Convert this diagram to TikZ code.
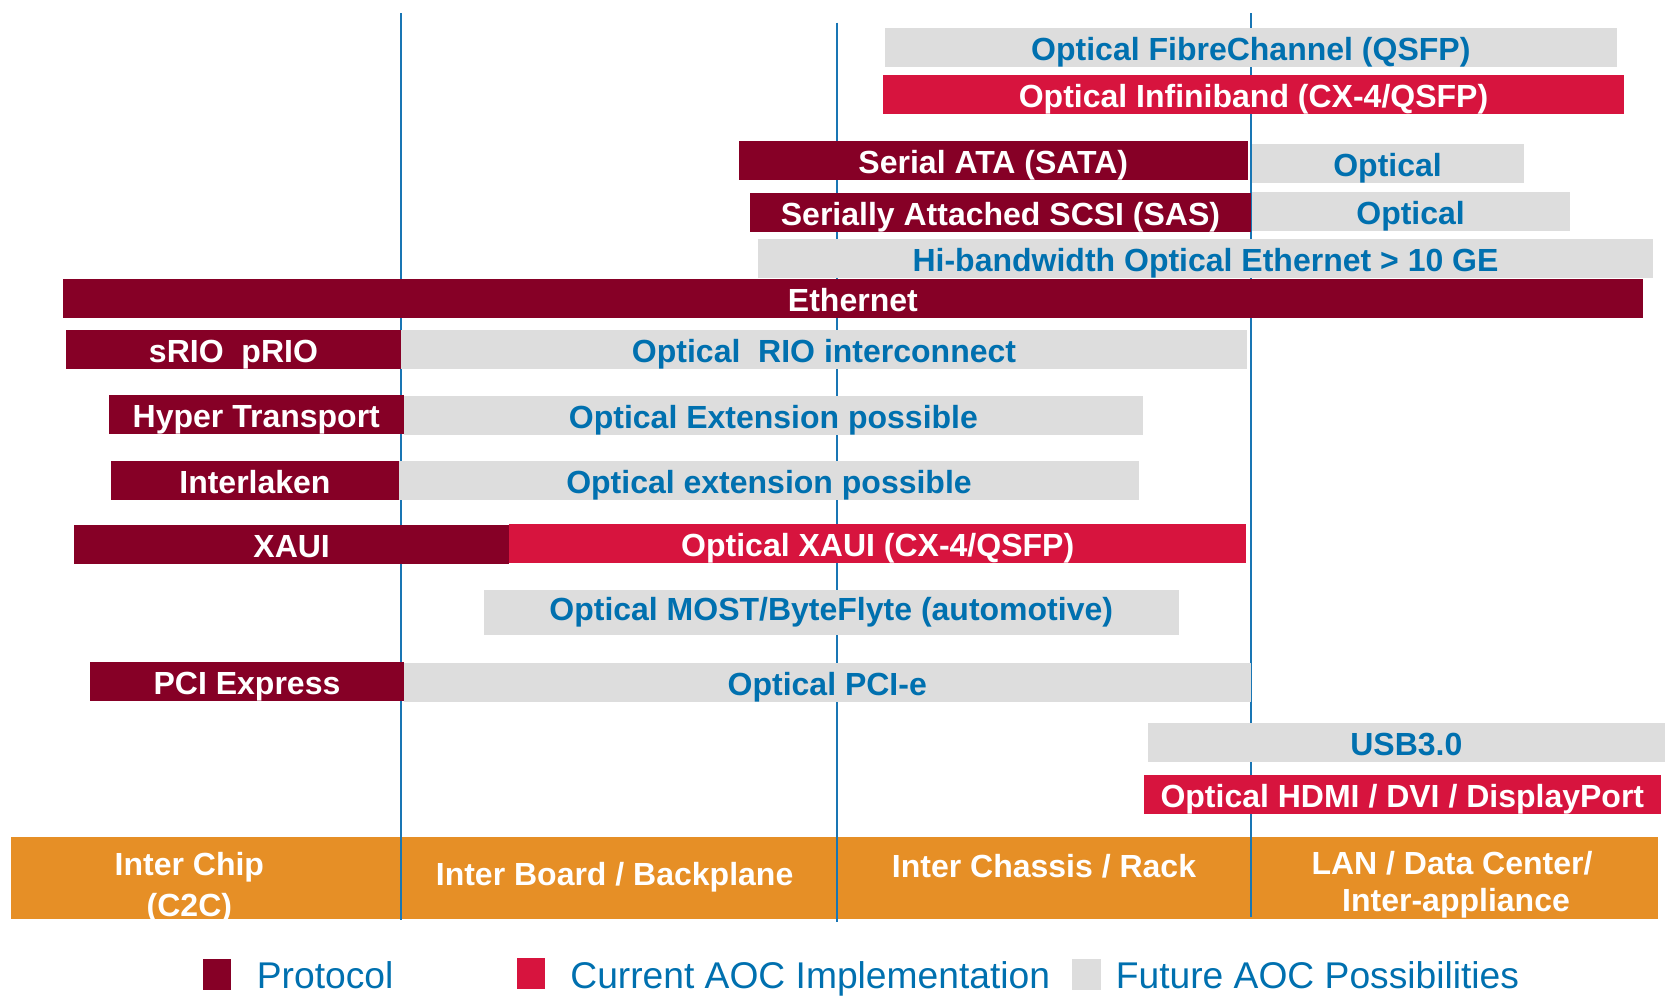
\documentclass[tikz,border=0pt]{standalone}
\usepackage{fontspec}
\setmainfont{Liberation Sans}
\definecolor{proto}{RGB}{134,0,38}
\definecolor{curr}{RGB}{215,20,62}
\definecolor{futg}{RGB}{221,221,221}
\definecolor{orng}{RGB}{230,143,38}
\definecolor{bluet}{RGB}{0,112,175}
\definecolor{vline}{RGB}{25,118,180}
\tikzset{
 barbase/.style={inner sep=0pt, outer sep=0pt, font=\fontsize{16pt}{19pt}\selectfont\bfseries, text height=13pt, text depth=0pt},
 protobar/.style={barbase, fill=proto, text=white},
 currbar/.style={barbase, fill=curr, text=white},
 futbar/.style={barbase, fill=futg, text=bluet},
 catband/.style={inner sep=0pt, outer sep=0pt, fill=orng},
 cattext/.style={inner sep=0pt, anchor=base, text=white, font=\fontsize{16pt}{19pt}\selectfont\bfseries},
 divider/.style={draw=vline, line width=1pt},
 legbox/.style={inner sep=0pt, outer sep=0pt},
 legtext/.style={inner sep=0pt, anchor=base west, text=bluet, font=\fontsize{18.6pt}{22pt}\selectfont},
}
\newcommand\mybar[7]{\node[#6, minimum width={(#4-#2)*0.5pt}, minimum height={(#5-#3)*0.5pt}] (#1) at ({(#2+#4)/2},{(#3+#5)/2}) {#7};}
\begin{document}
\begin{tikzpicture}[x=0.5pt,y=-0.5pt]
\useasboundingbox (0,0) rectangle (1673,996);
% category band
\mybar{band}{11.2}{837}{1658}{919.3}{catband}{}
% dividers
\coordinate (v1t) at (401,13);   \coordinate (v1b) at (401,920);
\coordinate (v2t) at (836.5,22.5); \coordinate (v2b) at (836.5,921.7);
\coordinate (v3t) at (1251,13);  \coordinate (v3b) at (1251,917);
\draw[divider] (v1t) -- (v1b);
\draw[divider] (v2t) -- (v2b);
\draw[divider] (v3t) -- (v3b);
% bars
\mybar{fc}{884.6}{28.3}{1617}{66.7}{futbar}{Optical FibreChannel (QSFP)}
\mybar{ib}{883}{75.3}{1624}{113.7}{currbar}{Optical Infiniband (CX-4/QSFP)}
\mybar{sata}{738.6}{141}{1248}{180}{protobar}{Serial ATA (SATA)}
\mybar{sataopt}{1251.5}{144.3}{1523.6}{182.7}{futbar}{Optical}
\mybar{sas}{750}{193}{1251}{231.7}{protobar}{Serially Attached SCSI (SAS)}
\mybar{sasopt}{1251.5}{192.3}{1569.7}{230.7}{futbar}{Optical}
\mybar{hibw}{758}{239}{1653}{277.7}{futbar}{Hi-bandwidth Optical Ethernet > 10 GE}
\mybar{eth}{63.2}{279}{1642.5}{317.7}{protobar}{Ethernet}
\mybar{srio}{65.9}{330}{401}{369}{protobar}{sRIO\ \ pRIO}
\mybar{rioopt}{401}{330}{1247}{369}{futbar}{Optical\ \ RIO interconnect}
\mybar{ht}{108.7}{395}{403.9}{434}{protobar}{Hyper Transport}
\mybar{htopt}{404}{396}{1142.8}{435}{futbar}{Optical Extension possible}
\mybar{il}{110.9}{461}{399}{500}{protobar}{Interlaken}
\mybar{ilopt}{399}{461}{1139}{500}{futbar}{Optical extension possible}
\mybar{xaui}{73.9}{525}{509.4}{563.7}{protobar}{XAUI}
\mybar{xauiopt}{509.4}{524}{1246}{562.7}{currbar}{Optical XAUI (CX-4/QSFP)}
\mybar{most}{483.7}{590}{1178.7}{634.7}{futbar, text height=8.2pt}{Optical MOST/ByteFlyte (automotive)}
\mybar{pci}{90}{662}{404}{700.7}{protobar}{PCI Express}
\mybar{pciopt}{404}{663}{1250.5}{701.7}{futbar}{Optical PCI-e}
\mybar{usb}{1147.6}{723.3}{1665}{761.7}{futbar}{USB3.0}
\mybar{hdmi}{1143.9}{775.3}{1660.7}{813.7}{currbar}{Optical HDMI / DVI / DisplayPort}
% category labels
\node[cattext] (c2ca) at (189.4,875.5) {Inter Chip};
\node[cattext] (c2cb) at (189.4,916) {(C2C)};
\node[cattext] (board) at (614.6,885) {Inter Board / Backplane};
\node[cattext] (chassis) at (1044,877.7) {Inter Chassis / Rack};
\node[cattext] (lana) at (1452,874.3) {LAN / Data Center/};
\node[cattext] (lanb) at (1456,911.7) {Inter-appliance};
% legend
\mybar{legp}{203}{959}{231.4}{989.7}{legbox, fill=proto}{}
\mybar{legc}{516.9}{958}{545.3}{989}{legbox, fill=curr}{}
\mybar{legf}{1072}{959}{1100.5}{989.7}{legbox, fill=futg}{}
\node[legtext] (legpt) at (256.5,988.3) {Protocol};
\node[legtext] (legct) at (570,988.3) {Current AOC Implementation};
\node[legtext] (legft) at (1115.5,988.3) {Future AOC Possibilities};
\end{tikzpicture}
\end{document}
